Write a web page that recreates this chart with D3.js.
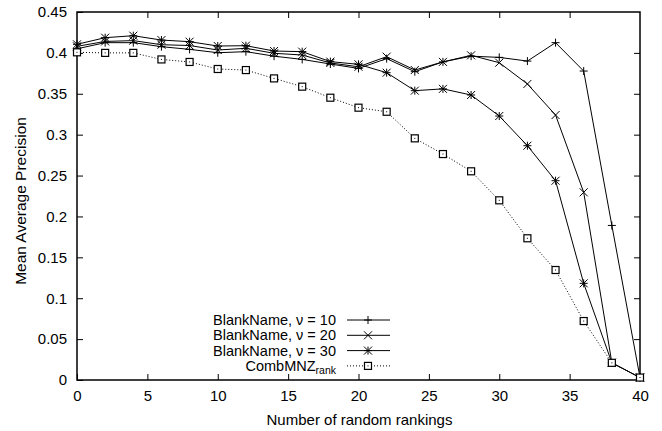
<!DOCTYPE html>
<html>
<head>
<meta charset="utf-8">
<script src="https://cdn.jsdelivr.net/npm/d3@7"></script>
<style>
  body { margin: 0; background: #fff; }
  text { font-family: "Liberation Sans", Arial, sans-serif; fill: #000; }
</style>
</head>
<body>
<svg id="chart" width="662" height="431"></svg>
<script>
// x values (number of random rankings)
const rankings = [0, 2, 4, 6, 8, 10, 12, 14, 16, 18, 20, 22, 24, 26, 28, 30, 32, 34, 36, 38, 40];

// Mean average precision per series
const nu10 = [0.405, 0.4125, 0.4125, 0.4076, 0.4043, 0.4002, 0.4015, 0.396, 0.392, 0.3864, 0.381,
  0.393, 0.377, 0.389, 0.396, 0.3945, 0.39, 0.4125, 0.3778, 0.189, 0.003];
const nu20 = [0.408, 0.414, 0.415, 0.410, 0.409, 0.4035, 0.4056, 0.3995, 0.3974, 0.3877, 0.383,
  0.3954, 0.379, 0.389, 0.397, 0.388, 0.362, 0.324, 0.2295, 0.021, 0.003];
const nu30 = [0.4105, 0.4186, 0.421, 0.4157, 0.4137, 0.4084, 0.4088, 0.4023, 0.4015, 0.3893, 0.386,
  0.3758, 0.3538, 0.356, 0.3485, 0.3228, 0.2865, 0.2437, 0.1182, 0.021, 0.003];
const combMNZ = [0.4007, 0.4, 0.4, 0.392, 0.3889, 0.3803, 0.379, 0.3688, 0.3587, 0.3452, 0.333,
  0.328, 0.2955, 0.2763, 0.2552, 0.2197, 0.1733, 0.1345, 0.0721, 0.021, 0.003];

const xTicks = [0, 5, 10, 15, 20, 25, 30, 35, 40];
const yTicks = [0, 0.05, 0.1, 0.15, 0.2, 0.25, 0.3, 0.35, 0.4, 0.45];

const series = [
  { name: "BlankName, \u03bd = 10", values: nu10, marker: "plus", dash: null },
  { name: "BlankName, \u03bd = 20", values: nu20, marker: "cross", dash: null },
  { name: "BlankName, \u03bd = 30", values: nu30, marker: "star", dash: null },
  { name: "CombMNZ", sub: "rank", values: combMNZ, marker: "square", dash: "1,2" }
];

const margin = { top: 12, right: 22, bottom: 51, left: 77 };
const width = 662, height = 431;

const svg = d3.select("#chart");

const x = d3.scaleLinear().domain([0, 40]).range([margin.left, width - margin.right]);
const y = d3.scaleLinear().domain([0, 0.45]).range([height - margin.bottom, margin.top]);

const tickLen = 6;

// axes with inward ticks on all sides
svg.append("g")
  .attr("transform", `translate(0,${y(0)})`)
  .call(d3.axisBottom(x).tickValues(xTicks).tickSize(-tickLen).tickPadding(10).tickFormat(d3.format("d")))
  .call(g => g.select(".domain").remove())
  .call(g => g.selectAll("text").style("font-size", "15px"));

svg.append("g")
  .attr("transform", `translate(0,${y(0.45)})`)
  .call(d3.axisTop(x).tickValues(xTicks.slice(1, -1)).tickSize(-tickLen).tickFormat(""))
  .call(g => g.select(".domain").remove());

svg.append("g")
  .attr("transform", `translate(${x(0)},0)`)
  .call(d3.axisLeft(y).tickValues(yTicks).tickSize(-tickLen).tickPadding(10)
    .tickFormat(d => d === 0 ? "0" : d3.format("")(+d.toFixed(2))))
  .call(g => g.select(".domain").remove())
  .call(g => g.selectAll("text").style("font-size", "15px"));

svg.append("g")
  .attr("transform", `translate(${x(40)},0)`)
  .call(d3.axisRight(y).tickValues(yTicks.slice(1, -1)).tickSize(-tickLen).tickFormat(""))
  .call(g => g.select(".domain").remove());

svg.selectAll(".tick line").attr("stroke", "#000").attr("stroke-width", 1);

// frame
svg.append("rect")
  .attr("x", x(0)).attr("y", y(0.45))
  .attr("width", x(40) - x(0)).attr("height", y(0) - y(0.45))
  .attr("fill", "none").attr("stroke", "#000").attr("stroke-width", 1.5);

// axis titles
svg.append("text")
  .attr("x", (x(0) + x(40)) / 2 + 1)
  .attr("y", 425)
  .attr("text-anchor", "middle")
  .style("font-size", "15px")
  .text("Number of random rankings");

svg.append("text")
  .attr("transform", "rotate(-90)")
  .attr("x", -201)
  .attr("y", 26)
  .attr("text-anchor", "middle")
  .style("font-size", "15.5px")
  .text("Mean Average Precision");

// markers
function drawMarker(g, type, cx, cy) {
  const s = 4;
  if (type === "plus" || type === "star") {
    g.append("path").attr("d", `M${cx - s},${cy}H${cx + s}M${cx},${cy - s}V${cy + s}`)
      .attr("stroke", "#000").attr("stroke-width", 1).attr("fill", "none");
  }
  if (type === "cross" || type === "star") {
    g.append("path").attr("d", `M${cx - s},${cy - s}L${cx + s},${cy + s}M${cx - s},${cy + s}L${cx + s},${cy - s}`)
      .attr("stroke", "#000").attr("stroke-width", 1).attr("fill", "none");
  }
  if (type === "square") {
    g.append("rect").attr("x", cx - 3.5).attr("y", cy - 3.5).attr("width", 7).attr("height", 7)
      .attr("fill", "#fff").attr("stroke", "#000").attr("stroke-width", 1.2);
    g.append("rect").attr("x", cx - 0.5).attr("y", cy - 0.5).attr("width", 1).attr("height", 1)
      .attr("fill", "#000");
  }
}

const line = d3.line().x((d, i) => x(rankings[i])).y(d => y(d));

series.forEach(s => {
  svg.append("path")
    .datum(s.values)
    .attr("d", line)
    .attr("fill", "none")
    .attr("stroke", "#000")
    .attr("stroke-width", 1)
    .attr("stroke-dasharray", s.dash);
  const g = svg.append("g");
  s.values.forEach((v, i) => drawMarker(g, s.marker, x(rankings[i]), y(v)));
});

// legend
const legendRight = 336;
const legendY0 = 320;
const legendStep = 15.3;
series.forEach((s, i) => {
  const ly = legendY0 + i * legendStep;
  const t = svg.append("text")
    .attr("x", legendRight)
    .attr("y", ly)
    .attr("dy", "0.35em")
    .attr("text-anchor", "end")
    .style("font-size", "14.5px")
    .text(s.name);
  if (s.sub) {
    t.append("tspan").attr("dy", "0.3em").style("font-size", "10.5px").text(s.sub);
  }
  svg.append("line")
    .attr("x1", 347).attr("x2", 390).attr("y1", ly).attr("y2", ly)
    .attr("stroke", "#000").attr("stroke-width", 1)
    .attr("stroke-dasharray", s.dash);
  drawMarker(svg.append("g"), s.marker, 368, ly);
});
</script>
</body>
</html>
